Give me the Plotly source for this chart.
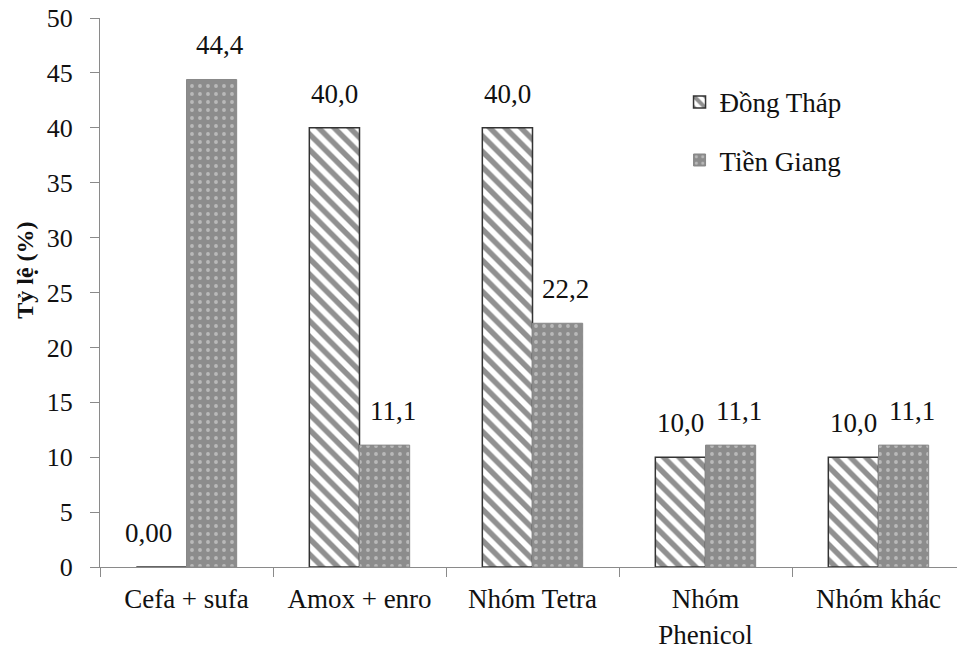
import plotly.graph_objects as go

categories = ["Cefa + sufa", "Amox + enro", "Nhóm Tetra", "Nhóm<br>Phenicol", "Nhóm khác"]
dong_thap = [0.0, 40.0, 40.0, 10.0, 10.0]
tien_giang = [44.4, 11.1, 22.2, 11.1, 11.1]
dong_thap_labels = ["0,00", "40,0", "40,0", "10,0", "10,0"]
tien_giang_labels = ["44,4", "11,1", "22,2", "11,1", "11,1"]
y_ticks = [0, 5, 10, 15, 20, 25, 30, 35, 40, 45, 50]

FONT = "Liberation Serif"
TXT = "#111111"

fig = go.Figure()
fig.add_trace(go.Bar(
    name="Đồng Tháp", x=categories, y=dong_thap, legendgroup="a",
    marker=dict(color="white", line=dict(color="#333333", width=1.5),
                pattern=dict(shape="\\", fgcolor="#222222", bgcolor="white",
                             size=11, solidity=0.5)),
))
fig.add_trace(go.Bar(
    name="Tiền Giang", x=categories, y=tien_giang, legendgroup="b",
    marker=dict(color="#8c8c8c", line=dict(color="#888888", width=1),
                pattern=dict(shape=".", fgcolor="#e6e6e6", bgcolor="#8c8c8c",
                             size=8, solidity=0.18)),
))

annotations = []
for i, c in enumerate(categories):
    for vals, labels, shift in ((dong_thap, dong_thap_labels, -25), (tien_giang, tien_giang_labels, 33)):
        v = vals[i]
        xs = shift - 13 if v == 0 else shift
        annotations.append(dict(
            x=c, y=v, text=labels[i], showarrow=False, xref="x", yref="y",
            xanchor="center", yanchor="bottom", xshift=xs, yshift=17,
            font=dict(family=FONT, size=27, color=TXT),
        ))

annotations.append(dict(
    text="<b>Tỷ lệ (%)</b>", textangle=-90, showarrow=False,
    xref="paper", yref="paper", x=-0.087, y=0.541,
    xanchor="center", yanchor="middle",
    font=dict(family=FONT, size=24, color=TXT),
))

fig.update_layout(
    width=965, height=648,
    margin=dict(l=92, r=8, t=10, b=89, autoexpand=False),
    paper_bgcolor="white", plot_bgcolor="white",
    barmode="group", bargap=0.42, bargroupgap=0,
    font=dict(family=FONT, size=26, color=TXT),
    showlegend=True,
    legend=dict(x=0.67, y=0.891, xanchor="left", yanchor="top",
                bgcolor="rgba(0,0,0,0)", tracegroupgap=20,
                font=dict(family=FONT, size=27, color=TXT),
                itemwidth=30),
    annotations=annotations,
)
fig.update_xaxes(
    range=[-0.5, 4.5], showline=True, linecolor="#8a8a8a", linewidth=1,
    ticks="outside", tickson="boundaries", ticklen=9, tickcolor="#8a8a8a",
    ticklabelstandoff=8, automargin=False,
    tickfont=dict(family=FONT, size=27, color=TXT), showgrid=False,
)
fig.update_yaxes(
    range=[0, 50], tickvals=y_ticks, showline=True, linecolor="#8a8a8a", linewidth=1,
    ticks="outside", ticklen=9, tickcolor="#8a8a8a", showgrid=False, zeroline=False,
    ticklabelstandoff=12, ticklabeloverflow="allow", automargin=False,
    tickfont=dict(family=FONT, size=26, color=TXT),
)

fig.write_html("out.html")
